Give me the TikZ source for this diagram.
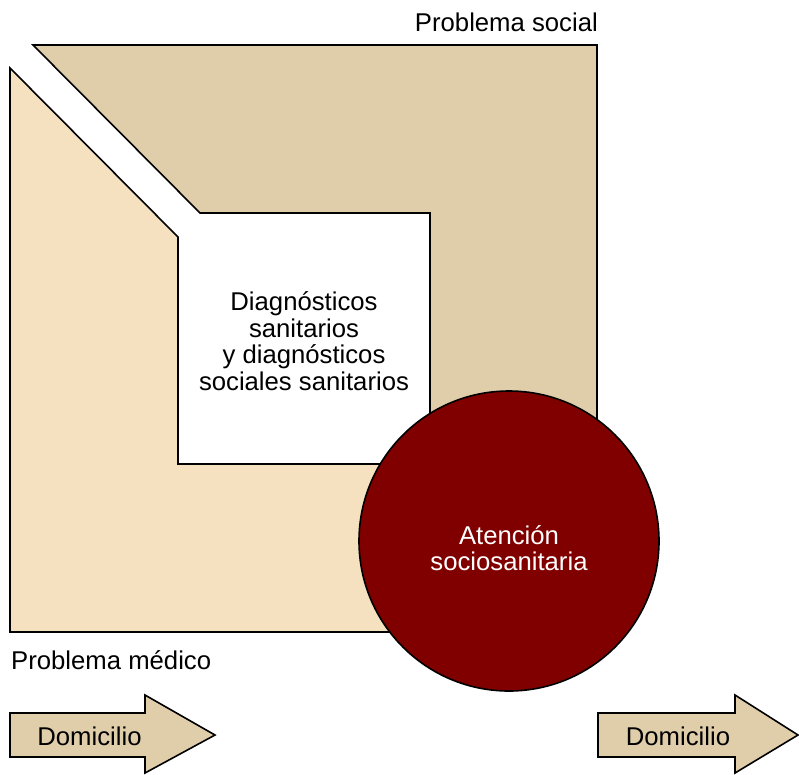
\documentclass[tikz,border=0pt]{standalone}
\usepackage{fontspec}
\setmainfont{Liberation Sans}
\definecolor{medico}{RGB}{245,225,192}
\definecolor{social}{RGB}{224,206,171}
\definecolor{atencion}{RGB}{128,0,0}
\begin{document}
\begin{tikzpicture}[x=1pt,y=-1pt,
  outl/.style={draw=black,line width=1.6pt,line join=miter},
  lbl/.style={font=\fontsize{25.7}{27}\selectfont,inner sep=0pt},
  arrowbox/.style={outl,fill=social}]
\useasboundingbox (0,0) rectangle (799,774);
% social problem shape
\draw[outl,fill=social] (33,45) -- (597,45) -- (597,464) -- (430,464) -- (430,213) -- (200,213) -- cycle;
% medical problem shape
\draw[outl,fill=medico] (10,68) -- (178,237) -- (178,464) -- (597,464) -- (597,632) -- (10,632) -- cycle;
% circle
\node[outl,circle,fill=atencion,minimum size=300pt,inner sep=0pt] (circ) at (509,541) {};
\node[lbl,text=white,align=center,font=\fontsize{25.7}{26.5}\selectfont] (aten) at (509,548) {Atención\\sociosanitaria};
% inner text
\node[lbl,align=center,font=\fontsize{25.7}{26.5}\selectfont] (diag) at (304,341) {Diagnósticos\\sanitarios\\y diagnósticos\\sociales sanitarios};
% labels
\node[lbl,anchor=base east] (psoc) at (598,31) {Problema social};
\node[lbl,anchor=base west] (pmed) at (11,669) {Problema médico};
% arrows
\draw[arrowbox] (10,713) -- (145,713) -- (145,695) -- (215,735) -- (145,773) -- (145,757) -- (10,757) -- cycle;
\node[lbl] (dom1) at (89.5,736) {Domicilio};
\draw[arrowbox] (598,713) -- (735,713) -- (735,695) -- (798,735) -- (735,773) -- (735,757) -- (598,757) -- cycle;
\node[lbl] (dom2) at (678,736) {Domicilio};
\end{tikzpicture}
\end{document}
